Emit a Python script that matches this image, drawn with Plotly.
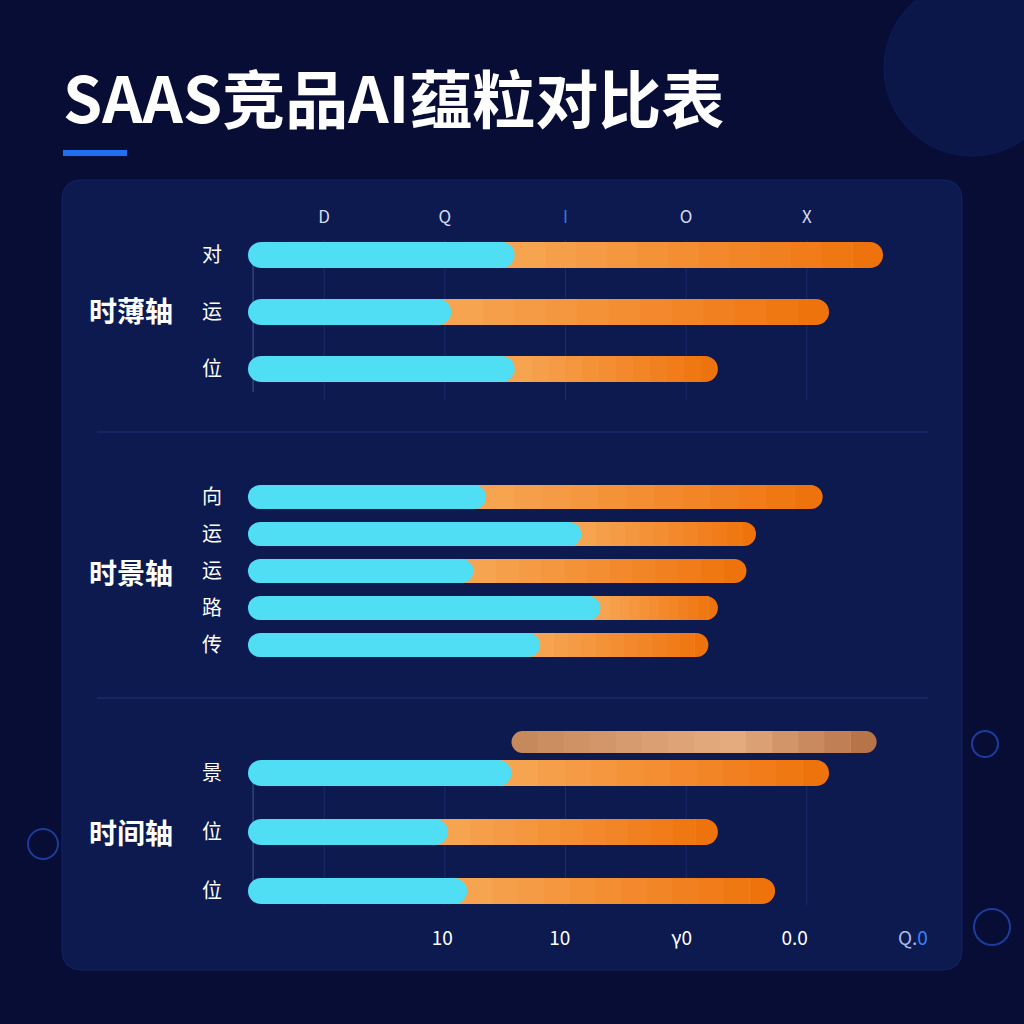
import plotly.graph_objects as go

# ---------------- data ----------------
group_names = ["时薄轴", "时景轴", "时间轴"]
categories = ["对", "运", "位", "向", "运", "运", "路", "传", "景", "位", "位"]
group_of_row = [0, 0, 0, 1, 1, 1, 1, 1, 2, 2, 2]
cyan_values = [42, 32, 42, 37.5, 52.5, 35.5, 55.5, 46, 41.5, 31.5, 34.5]
orange_values = [58, 59.5, 32, 53, 27.5, 43, 18.5, 26.5, 50, 42.5, 48.5]
highlight_start = 41.5
highlight_end = 99
top_tick_labels = ["D", "Q", '<span style="color:#3a78d8">I</span>', "O", "X"]
bottom_tick_labels = ["10", "10", "γ0", "0.0",
                      '<span style="color:#a9bde6">Q.</span><span style="color:#3b82f6">0</span>']
title_text = "SAAS竞品AI蕴粒对比表"

# ---------------- layout constants ----------------
W = H = 1024
PX_PER_UNIT = 6.35
X0_PX = 248
row_y = [255, 312, 369, 497, 534, 571, 608, 645, 773, 832, 891]
row_thick = [26, 26, 26, 24, 24, 24, 24, 24, 26, 26, 26]
highlight_y = 742
highlight_thick = 22
group_label_y = [310, 572, 832]
top_tick_pos = [12, 31, 50, 69, 88]
bottom_tick_pos = [30.6, 49.1, 68.3, 86.1, 104.7]

FONT = "Noto Sans CJK SC, Noto Sans, sans-serif"
CYAN = "#50def4"


def lerp_color(stops, t):
    for i in range(len(stops) - 1):
        t0, c0 = stops[i]
        t1, c1 = stops[i + 1]
        if t0 <= t <= t1:
            f = (t - t0) / (t1 - t0) if t1 > t0 else 0
            r = [int(round(c0[j] + (c1[j] - c0[j]) * f)) for j in range(3)]
            return "rgb(%d,%d,%d)" % tuple(r)
    return "rgb(%d,%d,%d)" % tuple(stops[-1][1])


def bar(y, x, base, width, color, radius):
    return go.Bar(orientation="h", y=y, x=x, base=base, width=width,
                  marker=dict(color=color, cornerradius=radius, line=dict(width=0)),
                  hoverinfo="skip", showlegend=False)


fig = go.Figure()

# ---- orange segments with a left-to-right gradient ----
orange_stops = [(0, (247, 166, 84)), (1, (239, 113, 10))]
K = 12
totals = [c + o for c, o in zip(cyan_values, orange_values)]
cap_d = [0.6 * t / PX_PER_UNIT for t in row_thick]
cap_start = [c + o * (K - 1) / K for c, o in zip(cyan_values, orange_values)]
cap_base = [a - d for a, d in zip(cap_start, cap_d)]
# rounded right cap (last gradient colour)
fig.add_trace(bar(row_y, [t - b for t, b in zip(totals, cap_base)], cap_base, row_thick,
                  lerp_color(orange_stops, (K - 0.5) / K), "50%"))
# square gradient slices, each running to the cap so no seams show
for k in range(K - 1):
    b0 = [c / 2 if k == 0 else c + o * k / K for c, o in zip(cyan_values, orange_values)]
    fig.add_trace(bar(row_y, [q - p for p, q in zip(b0, cap_start)], b0, row_thick,
                      lerp_color(orange_stops, (k + 0.5) / K), 0))

# ---- cyan segments (rounded at both ends) ----
fig.add_trace(bar(row_y, cyan_values, [0] * len(cyan_values), row_thick, CYAN, "50%"))

# ---- highlight (tan) range bar with gradient ----
tan_stops = [(0, (196, 135, 90)), (0.6, (229, 172, 128)), (1, (178, 110, 68))]
KT = 14
s, e = highlight_start, highlight_end
xs = [s + (e - s) * i / KT for i in range(KT + 1)]
dt = 0.6 * highlight_thick / PX_PER_UNIT
fig.add_trace(bar([highlight_y], [xs[1] + dt - s], [s], [highlight_thick],
                  lerp_color(tan_stops, 0.5 / KT), "50%"))
fig.add_trace(bar([highlight_y], [e - (xs[KT - 1] - dt)], [xs[KT - 1] - dt], [highlight_thick],
                  lerp_color(tan_stops, (KT - 0.5) / KT), "50%"))
for k in range(1, KT - 1):
    fig.add_trace(bar([highlight_y], [xs[KT - 1] - xs[k]], [xs[k]], [highlight_thick],
                      lerp_color(tan_stops, (k + 0.5) / KT), 0))

# invisible helper so the top axis is drawn
fig.add_trace(go.Scatter(x=top_tick_pos, y=[row_y[0]] * len(top_tick_pos), xaxis="x2",
                         mode="markers", marker=dict(opacity=0), hoverinfo="skip", showlegend=False))


# ---------------- decorations ----------------
def px(x):
    return x / W


def py(y):
    return 1 - y / H


def rounded_rect(x0, y0, x1, y1, r):
    X0, X1 = px(x0), px(x1)
    Y0, Y1 = py(y0), py(y1)
    rx, ry = r / W, r / H
    return (f"M {X0+rx},{Y0} L {X1-rx},{Y0} Q {X1},{Y0} {X1},{Y0-ry} "
            f"L {X1},{Y1+ry} Q {X1},{Y1} {X1-rx},{Y1} L {X0+rx},{Y1} "
            f"Q {X0},{Y1} {X0},{Y1+ry} L {X0},{Y0-ry} Q {X0},{Y0} {X0+rx},{Y0} Z")


shapes = []
shapes.append(dict(type="circle", xref="paper", yref="paper", layer="below",
                   x0=px(972 - 88), x1=px(972 + 88), y0=py(68 + 88), y1=py(68 - 88),
                   fillcolor="#0b1649", line=dict(color="#0e1b58", width=1)))
shapes.append(dict(type="path", xref="paper", yref="paper", layer="below",
                   path=rounded_rect(62, 180, 962, 970, 20),
                   fillcolor="#0c1a50", line=dict(color="#122466", width=1)))
for cx, cy, r in [(985, 744, 13), (43, 844, 15), (992, 927, 18)]:
    shapes.append(dict(type="circle", xref="paper", yref="paper", layer="below",
                       x0=px(cx - r), x1=px(cx + r), y0=py(cy + r), y1=py(cy - r),
                       line=dict(color="#1c3c9a", width=2), fillcolor="rgba(0,0,0,0)"))
shapes.append(dict(type="rect", xref="paper", yref="paper", layer="above",
                   x0=px(63), x1=px(127), y0=py(156), y1=py(150),
                   fillcolor="#1f6ff0", line=dict(width=0)))
for ysep in [432, 698]:
    shapes.append(dict(type="line", xref="paper", yref="y", layer="below",
                       x0=px(97), x1=px(928), y0=ysep, y1=ysep,
                       line=dict(color="rgba(70,100,190,0.35)", width=1)))
for (ya, yb) in [(240, 400), (760, 905)]:
    for t in top_tick_pos:
        shapes.append(dict(type="line", xref="x", yref="y", layer="below",
                           x0=t, x1=t, y0=ya, y1=yb,
                           line=dict(color="rgba(70,100,190,0.25)", width=1)))
for (ya, yb) in [(255, 392), (773, 885)]:
    shapes.append(dict(type="line", xref="x", yref="y", layer="below",
                       x0=0.8, x1=0.8, y0=ya, y1=yb,
                       line=dict(color="rgba(140,160,220,0.45)", width=1)))

annotations = [dict(xref="paper", yref="paper", x=px(61), y=py(95), xanchor="left", yanchor="middle",
                    text="<b>" + title_text + "</b>", showarrow=False,
                    font=dict(family=FONT, size=63, color="#ffffff"))]
for name, gy in zip(group_names, group_label_y):
    annotations.append(dict(xref="paper", yref="y", x=px(131), y=gy, xanchor="center", yanchor="middle",
                            text="<b>" + name + "</b>", showarrow=False,
                            font=dict(family=FONT, size=28, color="#ffffff")))

x_range = [-X0_PX / PX_PER_UNIT, (W - X0_PX) / PX_PER_UNIT]

fig.update_layout(
    width=W, height=H, autosize=False,
    margin=dict(l=0, r=0, t=0, b=0),
    paper_bgcolor="#080d36", plot_bgcolor="rgba(0,0,0,0)",
    barmode="overlay", showlegend=False, hovermode=False,
    font=dict(family=FONT, color="#ffffff"),
    xaxis=dict(range=x_range, domain=[0, 1], anchor="free", position=py(925),
               tickmode="array", tickvals=bottom_tick_pos, ticktext=bottom_tick_labels,
               showgrid=False, zeroline=False, showline=False, ticks="",
               tickfont=dict(family=FONT, size=19, color="#ffffff"), fixedrange=True),
    xaxis2=dict(range=x_range, domain=[0, 1], overlaying="x", side="top", anchor="free",
                position=py(226), tickmode="array", tickvals=top_tick_pos, ticktext=top_tick_labels,
                showgrid=False, zeroline=False, showline=False, ticks="",
                tickfont=dict(family=FONT, size=17, color="#d5dcf2"), fixedrange=True),
    yaxis=dict(range=[H, 0], domain=[0, 1], anchor="free", position=px(222),
               tickmode="array", tickvals=row_y, ticktext=categories,
               showgrid=False, zeroline=False, showline=False, ticks="",
               tickfont=dict(family=FONT, size=20, color="#ffffff"), fixedrange=True),
    shapes=shapes, annotations=annotations,
)

fig.write_html("out.html", config={"displayModeBar": False},
               post_script="document.body.style.margin='0';document.body.style.background='#080d36';")
